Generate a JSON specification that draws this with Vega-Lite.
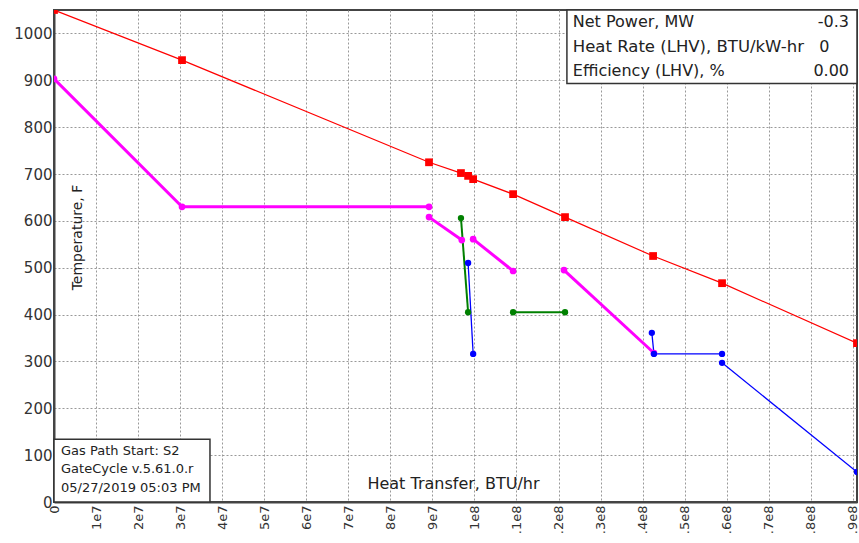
{
  "$schema": "https://vega.github.io/schema/vega-lite/v6.json",
  "width": 803,
  "height": 492,
  "autosize": {"type": "none"},
  "padding": {"left": 54, "top": 10, "right": 2, "bottom": 41},
  "background": "white",
  "config": {"view": {"stroke": "#444", "strokeWidth": 2}, "font": "DejaVu Sans"},
  "data": {"values": [
    {"s": "gas", "seg": "g", "x": 0, "y": 1050},
    {"s": "gas", "seg": "g", "x": 30450000, "y": 943},
    {"s": "gas", "seg": "g", "x": 89200000, "y": 725},
    {"s": "gas", "seg": "g", "x": 96800000, "y": 702},
    {"s": "gas", "seg": "g", "x": 98500000, "y": 696},
    {"s": "gas", "seg": "g", "x": 99700000, "y": 689},
    {"s": "gas", "seg": "g", "x": 109200000, "y": 657},
    {"s": "gas", "seg": "g", "x": 121550000, "y": 608},
    {"s": "gas", "seg": "g", "x": 142500000, "y": 525},
    {"s": "gas", "seg": "g", "x": 158900000, "y": 467},
    {"s": "gas", "seg": "g", "x": 191000000, "y": 339},
    {"s": "steam", "seg": "m1", "x": 0, "y": 903},
    {"s": "steam", "seg": "m1", "x": 30450000, "y": 630},
    {"s": "steam", "seg": "m1", "x": 89200000, "y": 630},
    {"s": "steam", "seg": "m2", "x": 89200000, "y": 608},
    {"s": "steam", "seg": "m2", "x": 97000000, "y": 559},
    {"s": "steam", "seg": "m3", "x": 99700000, "y": 561},
    {"s": "steam", "seg": "m3", "x": 109200000, "y": 493},
    {"s": "steam", "seg": "m4", "x": 121300000, "y": 495},
    {"s": "steam", "seg": "m4", "x": 142700000, "y": 318},
    {"s": "evap", "seg": "e1", "x": 96800000, "y": 606},
    {"s": "evap", "seg": "e1", "x": 98500000, "y": 405},
    {"s": "evap", "seg": "e2", "x": 109200000, "y": 405},
    {"s": "evap", "seg": "e2", "x": 121550000, "y": 405},
    {"s": "water", "seg": "b1", "x": 98500000, "y": 510},
    {"s": "water", "seg": "b1", "x": 99700000, "y": 316},
    {"s": "water", "seg": "b2", "x": 142200000, "y": 361},
    {"s": "water", "seg": "b2", "x": 142700000, "y": 316},
    {"s": "water", "seg": "b2", "x": 158900000, "y": 316},
    {"s": "water", "seg": "b3", "x": 158900000, "y": 297},
    {"s": "water", "seg": "b3", "x": 191000000, "y": 64}
  ]},
  "layer": [
    {
      "mark": {"type": "line", "clip": true},
      "encoding": {
        "x": {
          "field": "x", "type": "quantitative",
          "scale": {"domain": [0, 191000000], "nice": false, "zero": false},
          "axis": {
            "values": [0, 5000000, 10000000, 15000000, 20000000, 25000000, 30000000, 35000000, 40000000, 45000000, 50000000, 55000000, 60000000, 65000000, 70000000, 75000000, 80000000, 85000000, 90000000, 95000000, 100000000, 105000000, 110000000, 115000000, 120000000, 125000000, 130000000, 135000000, 140000000, 145000000, 150000000, 155000000, 160000000, 165000000, 170000000, 175000000, 180000000, 185000000, 190000000],
            "labelExpr": "datum.value % 10000000 != 0 ? '' : datum.value == 0 ? '0' : datum.value < 100000000 ? round(datum.value / 10000000) + 'e7' : datum.value == 100000000 ? '1e8' : '.' + round((datum.value - 100000000) / 10000000) + 'e8'",
            "labelAngle": -90,
            "labelFontSize": 13,
            "labelColor": "#333",
            "labelPadding": 7,
            "labelOverlap": false,
            "labelFlush": false,
            "labelBound": false,
            "tickSize": -4,
            "tickColor": "#333",
            "tickOpacity": {"condition": {"test": "datum.value % 10000000 != 0", "value": 1}, "value": 0},
            "grid": true,
            "gridColor": "#999",
            "gridDash": [2, 2],
            "gridOpacity": {"condition": {"test": "datum.value % 10000000 != 0", "value": 0}, "value": 1},
            "domainColor": "#444",
            "domainWidth": 2,
            "title": "Heat Transfer, BTU/hr",
            "titleX": 399,
            "titleY": -19,
            "titleFontSize": 16,
            "titleFontWeight": "normal",
            "titleColor": "#222",
            "titleAlign": "center",
            "titleBaseline": "middle"
          }
        },
        "y": {
          "field": "y", "type": "quantitative",
          "scale": {"domain": [0, 1050], "nice": false},
          "axis": {
            "values": [0, 50, 100, 150, 200, 250, 300, 350, 400, 450, 500, 550, 600, 650, 700, 750, 800, 850, 900, 950, 1000, 1050],
            "labelExpr": "datum.value % 100 == 0 ? format(datum.value, 'd') : ''",
            "labelFontSize": 15,
            "labelColor": "#333",
            "labelPadding": 6,
            "labelOverlap": false,
            "labelFlush": false,
            "labelBound": false,
            "tickSize": -4,
            "tickColor": "#333",
            "tickOpacity": {"condition": {"test": "datum.value % 100 != 0", "value": 1}, "value": 0},
            "grid": true,
            "gridColor": "#999",
            "gridDash": [2, 2],
            "gridOpacity": {"condition": {"test": "datum.value % 100 != 0", "value": 0}, "value": 1},
            "domainColor": "#444",
            "domainWidth": 2,
            "title": "Temperature, F",
            "titleX": 23,
            "titleY": 227,
            "titleAngle": -90,
            "titleFontSize": 14,
            "titleFontWeight": "normal",
            "titleColor": "#222",
            "titleAlign": "center",
            "titleBaseline": "middle"
          }
        },
        "color": {"field": "s", "type": "nominal", "scale": {"domain": ["gas", "steam", "evap", "water"], "range": ["#ff0000", "#ff00ff", "#008000", "#0000ff"]}, "legend": null},
        "strokeWidth": {"field": "s", "type": "nominal", "scale": {"type": "ordinal", "domain": ["gas", "steam", "evap", "water"], "range": [1.2, 3, 2, 1.3]}, "legend": null},
        "detail": {"field": "seg"}
      }
    },
    {
      "mark": {"type": "point", "filled": true, "opacity": 1, "clip": true},
      "encoding": {
        "x": {"field": "x", "type": "quantitative"},
        "y": {"field": "y", "type": "quantitative"},
        "color": {"field": "s", "type": "nominal", "legend": null},
        "shape": {"field": "s", "type": "nominal", "scale": {"domain": ["gas", "steam", "evap", "water"], "range": ["square", "circle", "circle", "circle"]}, "legend": null},
        "size": {"field": "s", "type": "nominal", "scale": {"type": "ordinal", "domain": ["gas", "steam", "evap", "water"], "range": [60, 45, 40, 40]}, "legend": null}
      }
    },
    {
      "data": {"values": [{}]},
      "mark": {"type": "rect", "fill": "white", "stroke": "#333", "strokeWidth": 1.5},
      "encoding": {
        "x": {"datum": 122000000, "type": "quantitative"},
        "x2": {"datum": 191000000},
        "y": {"datum": 893, "type": "quantitative"},
        "y2": {"datum": 1050}
      }
    },
    {
      "data": {"values": [{}]},
      "mark": {"type": "rect", "fill": "white", "stroke": "#333", "strokeWidth": 1.5},
      "encoding": {
        "x": {"datum": 0, "type": "quantitative"},
        "x2": {"datum": 37100000},
        "y": {"datum": 0, "type": "quantitative"},
        "y2": {"datum": 134}
      }
    },
    {
      "data": {"values": [{}]},
      "mark": {"type": "text", "align": "left", "baseline": "middle", "fontSize": 16, "color": "#222", "text": "Net Power, MW"},
      "encoding": {"x": {"datum": 123400000, "type": "quantitative"}, "y": {"datum": 1024, "type": "quantitative"}}
    },
    {
      "data": {"values": [{}]},
      "mark": {"type": "text", "align": "left", "baseline": "middle", "fontSize": 16.5, "color": "#222", "text": "Heat Rate (LHV), BTU/kW-hr"},
      "encoding": {"x": {"datum": 123400000, "type": "quantitative"}, "y": {"datum": 971, "type": "quantitative"}}
    },
    {
      "data": {"values": [{}]},
      "mark": {"type": "text", "align": "left", "baseline": "middle", "fontSize": 16, "color": "#222", "text": "Efficiency (LHV), %"},
      "encoding": {"x": {"datum": 123400000, "type": "quantitative"}, "y": {"datum": 920, "type": "quantitative"}}
    },
    {
      "data": {"values": [{}]},
      "mark": {"type": "text", "align": "right", "baseline": "middle", "fontSize": 16, "color": "#222", "text": "-0.3"},
      "encoding": {"x": {"datum": 189100000, "type": "quantitative"}, "y": {"datum": 1024, "type": "quantitative"}}
    },
    {
      "data": {"values": [{}]},
      "mark": {"type": "text", "align": "left", "baseline": "middle", "fontSize": 16, "color": "#222", "text": "0"},
      "encoding": {"x": {"datum": 182000000, "type": "quantitative"}, "y": {"datum": 971, "type": "quantitative"}}
    },
    {
      "data": {"values": [{}]},
      "mark": {"type": "text", "align": "right", "baseline": "middle", "fontSize": 16, "color": "#222", "text": "0.00"},
      "encoding": {"x": {"datum": 189100000, "type": "quantitative"}, "y": {"datum": 920, "type": "quantitative"}}
    },
    {
      "data": {"values": [{}]},
      "mark": {"type": "text", "align": "left", "baseline": "middle", "fontSize": 13, "color": "#222", "text": "Gas Path Start: S2"},
      "encoding": {"x": {"datum": 1670000, "type": "quantitative"}, "y": {"datum": 109, "type": "quantitative"}}
    },
    {
      "data": {"values": [{}]},
      "mark": {"type": "text", "align": "left", "baseline": "middle", "fontSize": 13, "color": "#222", "text": "GateCycle v.5.61.0.r"},
      "encoding": {"x": {"datum": 1670000, "type": "quantitative"}, "y": {"datum": 70, "type": "quantitative"}}
    },
    {
      "data": {"values": [{}]},
      "mark": {"type": "text", "align": "left", "baseline": "middle", "fontSize": 13, "color": "#222", "text": "05/27/2019 05:03 PM"},
      "encoding": {"x": {"datum": 1670000, "type": "quantitative"}, "y": {"datum": 30, "type": "quantitative"}}
    }
  ]
}
